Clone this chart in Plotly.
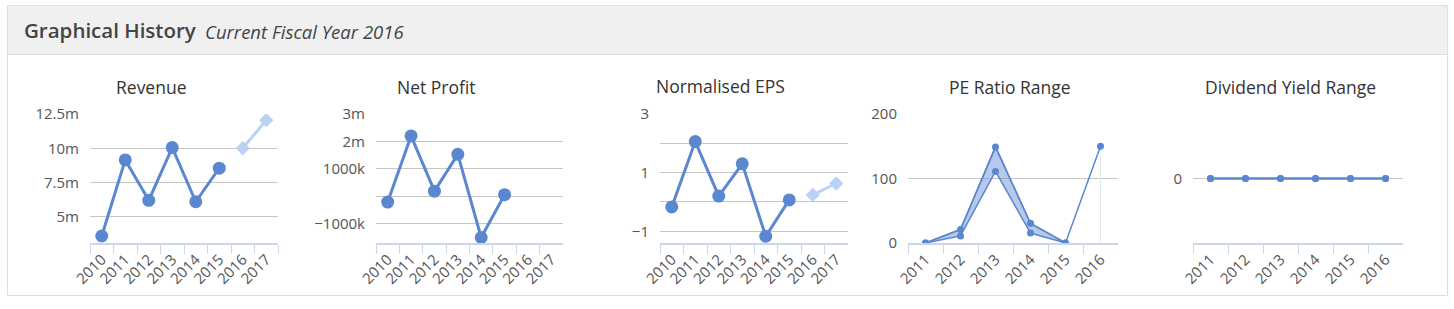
import plotly.graph_objects as go

W, H = 1454, 309

# ---------------- data ----------------
rev_years = ["2010", "2011", "2012", "2013", "2014", "2015", "2016", "2017"]
rev_actual = [3.6e6, 9.15e6, 6.2e6, 10.05e6, 6.1e6, 8.55e6]
rev_fc_years = ["2016", "2017"]
rev_forecast = [10.0e6, 12.05e6]
rev_ticks = [5e6, 7.5e6, 10e6, 12.5e6]
rev_ticktext = ["5m", "7.5m", "10m", "12.5m"]

np_years = ["2010", "2011", "2012", "2013", "2014", "2015", "2016", "2017"]
np_actual = [-0.21e6, 2.2e6, 0.19e6, 1.53e6, -1.5e6, 0.06e6]
np_ticks = [-1e6, 0, 1e6, 2e6, 3e6]
np_ticktext = ["\u22121000k", "", "1000k", "2m", "3m"]

eps_years = ["2010", "2011", "2012", "2013", "2014", "2015", "2016", "2017"]
eps_actual = [-0.17, 2.06, 0.2, 1.3, -1.17, 0.07]
eps_fc_years = ["2016", "2017"]
eps_forecast = [0.24, 0.63]
eps_ticks = [-1, 0, 1, 2, 3]
eps_ticktext = ["\u22121", "", "1", "", "3"]

pe_years = ["2011", "2012", "2013", "2014", "2015", "2016"]
pe_low = [0, 11, 111, 15.5, 0, None]
pe_high = [0, 21, 149, 30.5, 0, 150]
pe_ticks = [0, 100, 200]

dy_years = ["2011", "2012", "2013", "2014", "2015", "2016"]
dy_low = [0, 0, 0, 0, 0, 0]
dy_high = [0, 0, 0, 0, 0, 0]
dy_ticks = [0]

titles = ["Revenue", "Net Profit", "Normalised EPS", "PE Ratio Range", "Dividend Yield Range"]

# ---------------- style ----------------
MAIN = "#5b87d0"
LIGHT = "#bcd2f4"
AXIS = "#ccd6eb"
GRID = "#c6c6c6"
TXT = "#555555"
FONT = "Open Sans"

# pixel layout
xdom_px = [(90, 278), (376, 563), (660, 848), (908, 1118), (1193, 1403)]
y_top, y_bot = 114, 243
title_px = [(151, 87), (436, 87), (720, 86), (1010, 87), (1290, 87)]

fig = go.Figure()


def px_x(x):
    return x / W


def px_y(y):
    return 1 - y / H


# Revenue
fig.add_trace(go.Scatter(x=rev_years[:len(rev_actual)], y=rev_actual, mode="lines+markers",
                         line=dict(color=MAIN, width=3), marker=dict(size=13, color=MAIN),
                         xaxis="x", yaxis="y"))
fig.add_trace(go.Scatter(x=rev_fc_years, y=rev_forecast, mode="lines+markers",
                         line=dict(color=LIGHT, width=3),
                         marker=dict(size=11, color=LIGHT, symbol="diamond"),
                         xaxis="x", yaxis="y"))
# Net profit
fig.add_trace(go.Scatter(x=np_years[:len(np_actual)], y=np_actual, mode="lines+markers",
                         line=dict(color=MAIN, width=3), marker=dict(size=13, color=MAIN),
                         xaxis="x2", yaxis="y2"))
# EPS
fig.add_trace(go.Scatter(x=eps_years[:len(eps_actual)], y=eps_actual, mode="lines+markers",
                         line=dict(color=MAIN, width=3), marker=dict(size=13, color=MAIN),
                         xaxis="x3", yaxis="y3"))
fig.add_trace(go.Scatter(x=eps_fc_years, y=eps_forecast, mode="lines+markers",
                         line=dict(color=LIGHT, width=3),
                         marker=dict(size=11, color=LIGHT, symbol="diamond"),
                         xaxis="x3", yaxis="y3"))
# PE range
n_fill = sum(1 for v in pe_low if v is not None)
fig.add_trace(go.Scatter(x=[pe_years[-1], pe_years[-1]], y=[0, pe_high[-1]], mode="lines",
                         line=dict(color="#e3eaf6", width=1), xaxis="x4", yaxis="y4"))
fig.add_trace(go.Scatter(x=pe_years[:n_fill], y=pe_low[:n_fill], mode="lines+markers",
                         line=dict(color=MAIN, width=1.5), marker=dict(size=7, color=MAIN),
                         xaxis="x4", yaxis="y4"))
fig.add_trace(go.Scatter(x=pe_years[:n_fill], y=pe_high[:n_fill], mode="lines",
                         line=dict(color=MAIN, width=1.5), fill="tonexty",
                         fillcolor="rgba(91,135,208,0.45)", xaxis="x4", yaxis="y4"))
fig.add_trace(go.Scatter(x=pe_years, y=pe_high, mode="lines+markers",
                         line=dict(color=MAIN, width=1.5), marker=dict(size=7, color=MAIN),
                         xaxis="x4", yaxis="y4"))
# Dividend yield range
fig.add_trace(go.Scatter(x=dy_years, y=dy_low, mode="lines+markers",
                         line=dict(color=MAIN, width=2), marker=dict(size=7, color=MAIN),
                         xaxis="x5", yaxis="y5"))
fig.add_trace(go.Scatter(x=dy_years, y=dy_high, mode="lines+markers",
                         line=dict(color=MAIN, width=2), marker=dict(size=7, color=MAIN),
                         xaxis="x5", yaxis="y5"))

cats = [rev_years, np_years, eps_years, pe_years, dy_years]
yspec = [
    dict(range=[3.09e6, 12.5e6], tickvals=rev_ticks, ticktext=rev_ticktext),
    dict(range=[-1.7e6, 3e6], tickvals=np_ticks, ticktext=np_ticktext),
    dict(range=[-1.4, 3], tickvals=eps_ticks, ticktext=eps_ticktext),
    dict(range=[0, 200], tickvals=pe_ticks, ticktext=[str(v) for v in pe_ticks]),
    dict(range=[-1, 1], tickvals=dy_ticks, ticktext=[str(v) for v in dy_ticks]),
]

layout = {}
for i in range(5):
    sx = "" if i == 0 else str(i + 1)
    x0, x1 = xdom_px[i]
    layout["xaxis" + sx] = dict(
        domain=[px_x(x0), px_x(x1)], anchor="y" + sx, type="category",
        categoryorder="array", categoryarray=cats[i], range=[-0.5, len(cats[i]) - 0.5],
        showline=True, linecolor=AXIS, linewidth=2, ticks="outside", tickson="boundaries",
        ticklen=9, tickcolor=AXIS, tickwidth=1, tickangle=-45, showgrid=False,
        automargin=False,
        tickfont=dict(family=FONT, size=15, color=TXT), fixedrange=True,
    )
    layout["yaxis" + sx] = dict(
        domain=[px_y(y_bot), px_y(y_top)], anchor="x" + sx,
        range=yspec[i]["range"], tickmode="array", tickvals=yspec[i]["tickvals"],
        ticktext=yspec[i]["ticktext"], showgrid=True, gridcolor=GRID, gridwidth=1,
        zeroline=False, showline=False, ticks="", ticklabelstandoff=10, automargin=False,
        tickfont=dict(family=FONT, size=15, color=TXT), fixedrange=True,
    )

annotations = []
for (tx, ty), t in zip(title_px, titles):
    annotations.append(dict(x=px_x(tx), y=px_y(ty), xref="paper", yref="paper", text=t,
                            showarrow=False, xanchor="center", yanchor="middle",
                            font=dict(family=FONT, size=17.5, color="#333333")))
annotations.append(dict(x=px_x(22), y=px_y(30), xref="paper", yref="paper",
                        text="Graphical History", showarrow=False, xanchor="left",
                        yanchor="middle", font=dict(family=FONT, size=20.5, color="#444444", weight=600)))
annotations.append(dict(x=px_x(203), y=px_y(31), xref="paper", yref="paper",
                        text="<i>Current Fiscal Year 2016</i>", showarrow=False, xanchor="left",
                        yanchor="middle", font=dict(family=FONT, size=18.5, color="#444444")))

shapes = [
    dict(type="rect", xref="paper", yref="paper", x0=px_x(7.5), x1=px_x(1447.5),
         y0=px_y(295.5), y1=px_y(5.5), line=dict(color="#dddddd", width=1),
         fillcolor="rgba(0,0,0,0)", layer="below"),
    dict(type="rect", xref="paper", yref="paper", x0=px_x(8), x1=px_x(1447),
         y0=px_y(54.5), y1=px_y(6), line=dict(width=0),
         fillcolor="#f0f0f0", layer="below"),
    dict(type="line", xref="paper", yref="paper", x0=px_x(8), x1=px_x(1447),
         y0=px_y(54.5), y1=px_y(54.5), line=dict(color="#dddddd", width=1)),
]

fig.update_layout(
    width=W, height=H, margin=dict(l=0, r=0, t=0, b=0, pad=0, autoexpand=False),
    paper_bgcolor="white", plot_bgcolor="white", showlegend=False,
    annotations=annotations, shapes=shapes, **layout,
)

fig.write_html("out.html", config={"displayModeBar": False})
